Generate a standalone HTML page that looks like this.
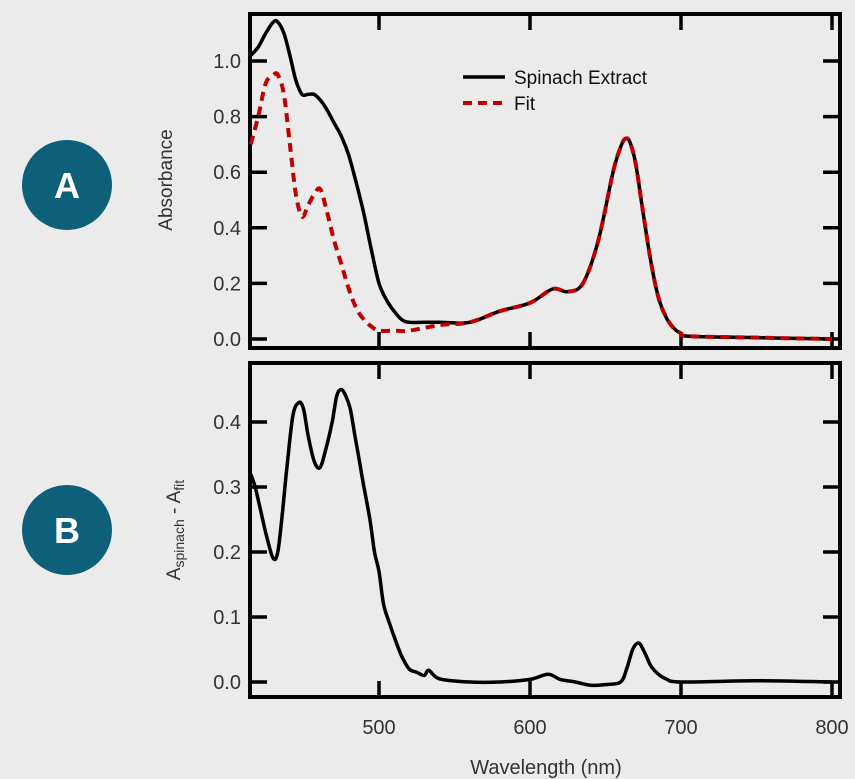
<!DOCTYPE html>
<html><head><meta charset="utf-8"><style>
body{margin:0;background:#ebebeb;}
svg{display:block;font-family:"Liberation Sans",sans-serif;}
</style></head><body>
<svg width="855" height="779" viewBox="0 0 855 779">
<rect width="855" height="779" fill="#ebebeb"/>
<g><circle cx="67" cy="185" r="45" fill="#0d5f7a"/><text x="67" y="198" text-anchor="middle" font-size="36" font-weight="bold" fill="#fff">A</text></g>
<g><circle cx="67" cy="530" r="45" fill="#0d5f7a"/><text x="67" y="543" text-anchor="middle" font-size="36" font-weight="bold" fill="#fff">B</text></g>
<g id="top"></g><g id="bot"></g>
<text x="172" y="180" transform="rotate(-90 172 180)" text-anchor="middle" font-size="19" fill="#333">Absorbance</text>
<text x="180" y="530" transform="rotate(-90 180 530)" text-anchor="middle" font-size="19" fill="#333">A<tspan font-size="14" dy="4">spinach</tspan><tspan dy="-4"> - A</tspan><tspan font-size="14" dy="4">fit</tspan></text>
<text x="546" y="774" text-anchor="middle" font-size="20" fill="#333">Wavelength (nm)</text>
<g>
<line x1="463" y1="77" x2="505" y2="77" stroke="#000" stroke-width="3.5"/>
<text x="514" y="84" font-size="19" fill="#111">Spinach Extract</text>
<line x1="463" y1="103" x2="505" y2="103" stroke="#c00000" stroke-width="4" stroke-dasharray="9,6"/>
<text x="514" y="110" font-size="19" fill="#111">Fit</text>
</g>
</svg>
<script>
const wlExtract=[415,420,425,430,433,437,441,445,449,453,457,461,465,470,475,480,485,490,495,500,505,510,515,520,530,540,560,580,600,615,625,635,645,655,660,663,666,670,675,680,685,690,695,700,705,750,800];
const absExtract=[1.02,1.05,1.10,1.14,1.14,1.10,1.02,0.93,0.88,0.88,0.88,0.86,0.83,0.78,0.73,0.66,0.56,0.45,0.32,0.20,0.14,0.10,0.07,0.06,0.06,0.06,0.06,0.10,0.13,0.18,0.17,0.20,0.35,0.60,0.69,0.72,0.71,0.63,0.45,0.28,0.15,0.08,0.04,0.02,0.01,0.005,0.0];
const wlFit=[415,420,425,430,433,437,441,445,449,453,457,461,465,470,475,480,485,490,495,500,510,520,540,560,580,600,615,625,635,645,655,660,663,666,670,675,680,685,690,695,700,705,750,800];
const absFit=[0.70,0.80,0.92,0.95,0.95,0.88,0.70,0.52,0.44,0.48,0.52,0.54,0.47,0.36,0.27,0.18,0.11,0.07,0.045,0.03,0.03,0.03,0.05,0.06,0.10,0.13,0.18,0.17,0.20,0.35,0.60,0.69,0.72,0.71,0.63,0.45,0.28,0.15,0.08,0.04,0.02,0.01,0.005,0.0];
const wlDiff=[415,418,422,426,430,433,436,439,443,447,450,453,457,461,465,469,472,475,478,481,484,487,490,494,497,500,503,507,510,515,520,525,530,533,540,560,580,600,612,620,630,640,650,660,664,668,672,676,680,685,690,700,750,800];
const diffVals=[0.32,0.30,0.26,0.22,0.19,0.20,0.26,0.33,0.41,0.43,0.42,0.38,0.34,0.33,0.36,0.40,0.44,0.45,0.44,0.42,0.38,0.34,0.30,0.25,0.20,0.17,0.12,0.09,0.07,0.04,0.02,0.015,0.01,0.018,0.005,0.0,0.0,0.004,0.012,0.004,0.0,-0.005,-0.004,0.0,0.02,0.05,0.06,0.045,0.025,0.012,0.005,0.0,0.002,0.0];
const xTicks=[500,600,700,800];
const yTicksTop=[0.0,0.2,0.4,0.6,0.8,1.0];
const yTicksBot=[0.0,0.1,0.2,0.3,0.4];
const NS="http://www.w3.org/2000/svg";
const X0=250,X1=840;
function xs(w){return 379+(w-500)*1.51;}
function yTop(v){return 339-278*v;}
function yBot(v){return 682-650*v;}
function mk(tag,attrs,parent){const e=document.createElementNS(NS,tag);for(const k in attrs)e.setAttribute(k,attrs[k]);parent.appendChild(e);return e;}
function panel(g,top,bottom,yf,yticks,showX){
  const f=mk('rect',{x:X0,y:top,width:X1-X0,height:bottom-top,fill:'none',stroke:'#000','stroke-width':4},g);
  
  
  xTicks.forEach(t=>{
    const x=xs(t);
    const a=mk('line',{x1:x,y1:bottom,x2:x,y2:bottom-16,stroke:'#000','stroke-width':3.5},g);
    
    
    mk('line',{x1:x,y1:top,x2:x,y2:top+16,stroke:'#000','stroke-width':3.5},g);
    if(showX){const tx=mk('text',{x:x,y:bottom+37,'text-anchor':'middle','font-size':20,fill:'#333'},g);tx.textContent=t;
      
      }
  });
  yticks.forEach(t=>{
    const y=yf(t);
    const a=mk('line',{x1:X0,y1:y,x2:X0+17,y2:y,stroke:'#000','stroke-width':3.5},g);
    
    
    mk('line',{x1:X1,y1:y,x2:X1-17,y2:y,stroke:'#000','stroke-width':3.5},g);
    const tx=mk('text',{x:X0-9,y:y+7,'text-anchor':'end','font-size':20,fill:'#333'},g);tx.textContent=t.toFixed(1);
    
    
  });
}
function line(g,xsArr,ysArr,yf,attrs,name){
  const P=xsArr.map((w,i)=>[xs(w),yf(ysArr[i])]);
  let d='M'+P[0][0].toFixed(1)+','+P[0][1].toFixed(1);
  for(let i=0;i<P.length-1;i++){
    const p0=P[Math.max(0,i-1)],p1=P[i],p2=P[i+1],p3=P[Math.min(P.length-1,i+2)];
    const c1=[p1[0]+(p2[0]-p0[0])/6,p1[1]+(p2[1]-p0[1])/6];
    const c2=[p2[0]-(p3[0]-p1[0])/6,p2[1]-(p3[1]-p1[1])/6];
    d+=' C'+c1.map(v=>v.toFixed(1)).join(',')+' '+c2.map(v=>v.toFixed(1)).join(',')+' '+p2.map(v=>v.toFixed(1)).join(',');
  }
  const p=mk('path',Object.assign({d:d,fill:'none','stroke-linejoin':'round'},attrs),g);
  
  
}
const gt=document.getElementById('top');
const gb=document.getElementById('bot');
panel(gt,14,348,yTop,yTicksTop,false);
line(gt,wlExtract,absExtract,yTop,{stroke:'#000','stroke-width':3.5},'spinach-extract-line');
line(gt,wlFit,absFit,yTop,{stroke:'#c00000','stroke-width':4,'stroke-dasharray':'9,6'},'fit-line');
panel(gb,363,697,yBot,yTicksBot,true);
line(gb,wlDiff,diffVals,yBot,{stroke:'#000','stroke-width':3.5},'difference-line');
</script>
</body></html>
